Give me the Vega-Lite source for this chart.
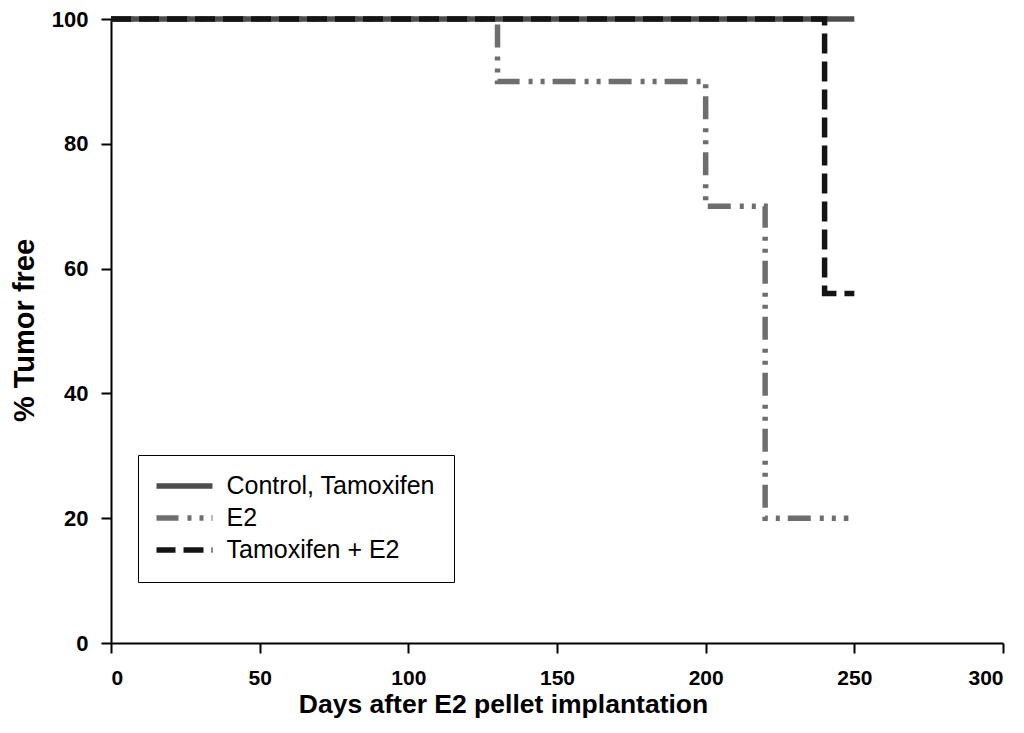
{
  "$schema": "https://vega.github.io/schema/vega-lite/v6.json",
  "width": 892,
  "height": 624,
  "autosize": {"type": "none"},
  "padding": {"left": 111, "top": 19, "right": 21, "bottom": 90},
  "background": "white",
  "config": {
    "view": {"stroke": null},
    "font": "Liberation Sans",
    "axis": {
      "grid": false,
      "domainColor": "black",
      "domainWidth": 2,
      "tickColor": "black",
      "tickWidth": 2,
      "tickSize": 10,
      "labelFont": "Liberation Sans",
      "labelFontWeight": "bold",
      "labelFontSize": 22,
      "labelColor": "black",
      "titleFont": "Liberation Sans",
      "titleFontWeight": "bold",
      "titleColor": "black"
    }
  },
  "data": {
    "values": [
      {"group": "E2", "day": 0, "pct": 100},
      {"group": "E2", "day": 130, "pct": 90},
      {"group": "E2", "day": 200, "pct": 70},
      {"group": "E2", "day": 220, "pct": 20},
      {"group": "E2", "day": 248, "pct": 20},
      {"group": "Control, Tamoxifen", "day": 0, "pct": 100},
      {"group": "Control, Tamoxifen", "day": 250, "pct": 100},
      {"group": "Tamoxifen + E2", "day": 0, "pct": 100},
      {"group": "Tamoxifen + E2", "day": 240, "pct": 56},
      {"group": "Tamoxifen + E2", "day": 250, "pct": 56}
    ]
  },
  "mark": {"type": "line", "interpolate": "step-after", "strokeWidth": 5.5, "strokeCap": "butt", "clip": false},
  "encoding": {
    "x": {
      "field": "day",
      "type": "quantitative",
      "scale": {"domain": [0, 300], "nice": false},
      "axis": {
        "title": "Days after E2 pellet implantation",
        "values": [0, 50, 100, 150, 200, 250, 300],
        "labelFontSize": 21,
        "labelPadding": 14,
        "titleFontSize": 26.5,
        "titleX": 392,
        "titleY": 69,
        "titleAlign": "center",
        "titleBaseline": "alphabetic"
      }
    },
    "y": {
      "field": "pct",
      "type": "quantitative",
      "scale": {"domain": [0, 100], "nice": false},
      "axis": {
        "title": "% Tumor free",
        "values": [0, 20, 40, 60, 80, 100],
        "labelPadding": 13,
        "titleFontSize": 29,
        "titleX": -78,
        "titleY": 311,
        "titleAngle": 270,
        "titleAlign": "center",
        "titleBaseline": "alphabetic"
      }
    },
    "color": {
      "field": "group",
      "type": "nominal",
      "scale": {
        "domain": ["Control, Tamoxifen", "E2", "Tamoxifen + E2"],
        "range": ["#4d4d4d", "#6e6e6e", "#141414"]
      },
      "legend": {
        "title": null,
        "orient": "none",
        "legendX": 27,
        "legendY": 436,
        "strokeColor": "black",
        "padding": 18.5,
        "symbolType": "stroke",
        "symbolSize": 3249,
        "symbolStrokeWidth": 5.5,
        "symbolOffset": -4,
        "clipHeight": 25,
        "labelFontSize": 25,
        "labelFont": "Liberation Sans",
        "labelColor": "black",
        "labelOffset": 11,
        "rowPadding": 6,
        "labelLimit": 400
      }
    },
    "strokeDash": {
      "field": "group",
      "type": "nominal",
      "scale": {
        "domain": ["Control, Tamoxifen", "E2", "Tamoxifen + E2"],
        "range": [[1, 0], [23, 9, 4, 8, 4, 8], [20, 8]]
      },
      "legend": {
        "title": null,
        "orient": "none",
        "legendX": 27,
        "legendY": 436,
        "strokeColor": "black",
        "padding": 18.5,
        "symbolType": "stroke",
        "symbolSize": 3249,
        "symbolStrokeWidth": 5.5,
        "symbolOffset": -4,
        "clipHeight": 25,
        "labelFontSize": 25,
        "labelFont": "Liberation Sans",
        "labelColor": "black",
        "labelOffset": 11,
        "rowPadding": 6,
        "labelLimit": 400
      }
    }
  }
}
